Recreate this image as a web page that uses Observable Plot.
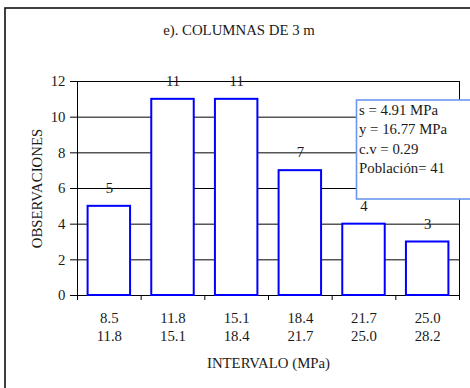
<!DOCTYPE html>
<html>
<head>
<meta charset="utf-8">
<script src="https://cdn.jsdelivr.net/npm/d3@7"></script>
<script src="https://cdn.jsdelivr.net/npm/@observablehq/plot@0.6"></script>
<style>
  html, body { margin: 0; padding: 0; background: white; }
</style>
</head>
<body>
<div id="chart"></div>
<script>
// Strength intervals (MPa) and number of observations in each
const lowerBounds = ["8.5", "11.8", "15.1", "18.4", "21.7", "25.0"];
const upperBounds = ["11.8", "15.1", "18.4", "21.7", "25.0", "28.2"];
const counts = [5, 11, 11, 7, 4, 3];
const yTicks = [0, 2, 4, 6, 8, 10, 12];

// Summary statistics shown in the box
const statLines = ["s = 4.91 MPa", "y = 16.77 MPa", "c.v = 0.29", "Población= 41"];

const titleText = "e). COLUMNAS DE 3 m";
const xLabel = "INTERVALO (MPa)";
const yLabel = "OBSERVACIONES";

const rows = counts.map((n, i) => ({i, n, lo: lowerBounds[i], hi: upperBounds[i]}));

const ink = "#1a1a1a";
const fs = 14.8;

const chart = Plot.plot({
  width: 470,
  height: 388,
  marginLeft: 77,
  marginRight: 11,
  marginTop: 81,
  marginBottom: 93,
  style: {fontFamily: "'Liberation Serif', serif", fontSize: fs + "px", color: ink, background: "white"},
  x: {domain: [0, counts.length], axis: null},
  y: {domain: [0, 12], axis: null},
  marks: [
    Plot.gridY(yTicks, {stroke: "black", strokeOpacity: 1, strokeWidth: 1}),
    Plot.frame({stroke: "black", strokeWidth: 1}),
    Plot.axisY({ticks: yTicks, tickSize: 7, tickPadding: 5, label: null, stroke: "black", fontSize: fs}),
    // interval boundaries
    Plot.axisX({ticks: d3.range(counts.length + 1), tickSize: 5, tickFormat: () => "", label: null, stroke: "black"}),
    Plot.rectY(rows, {
      x1: d => d.i, x2: d => d.i + 1, y: "n",
      insetLeft: 10.6, insetRight: 10.6,
      fill: "white", stroke: "#0000ff", strokeWidth: 2
    }),
    Plot.text(rows, {x: d => d.i + 0.5, y: "n", text: d => String(d.n), dy: -18, fontSize: fs, fill: ink}),
    // two-line interval labels
    Plot.text(rows, {
      x: d => d.i + 0.5, text: d => `${d.lo}\n${d.hi}`,
      frameAnchor: "bottom", lineAnchor: "top", dy: 14.4, lineHeight: 1.22, fontSize: fs, fill: ink
    }),
    Plot.text([xLabel], {frameAnchor: "bottom", lineAnchor: "middle", dy: 68, fontSize: fs, fill: ink}),
    Plot.text([yLabel], {frameAnchor: "left", textAnchor: "middle", lineAnchor: "middle", dx: -40.5, rotate: -90, fontSize: fs, fill: ink}),
    Plot.text([titleText], {frameAnchor: "top", lineAnchor: "middle", dx: -29.5, dy: -51, fontSize: fs, fill: ink})
  ]
});

const svg = d3.select(chart);

// outer chart border
svg.insert("rect", ":first-child")
  .attr("x", 5).attr("y", 8).attr("width", 480).attr("height", 400)
  .attr("fill", "none").attr("stroke", "#111").attr("stroke-width", 1.6);

// statistics box
const box = svg.append("g").attr("text-anchor", "start");
box.append("rect")
  .attr("x", 356.5).attr("y", 100).attr("width", 125).attr("height", 99)
  .attr("fill", "white").attr("stroke", "#6b96f0").attr("stroke-width", 1.6);
box.selectAll("text").data(statLines).join("text")
  .attr("x", 359)
  .attr("y", (d, k) => 115 + k * 19.3)
  .attr("fill", ink)
  .attr("font-size", fs)
  .text(d => d);

document.getElementById("chart").append(chart);
</script>
</body>
</html>
